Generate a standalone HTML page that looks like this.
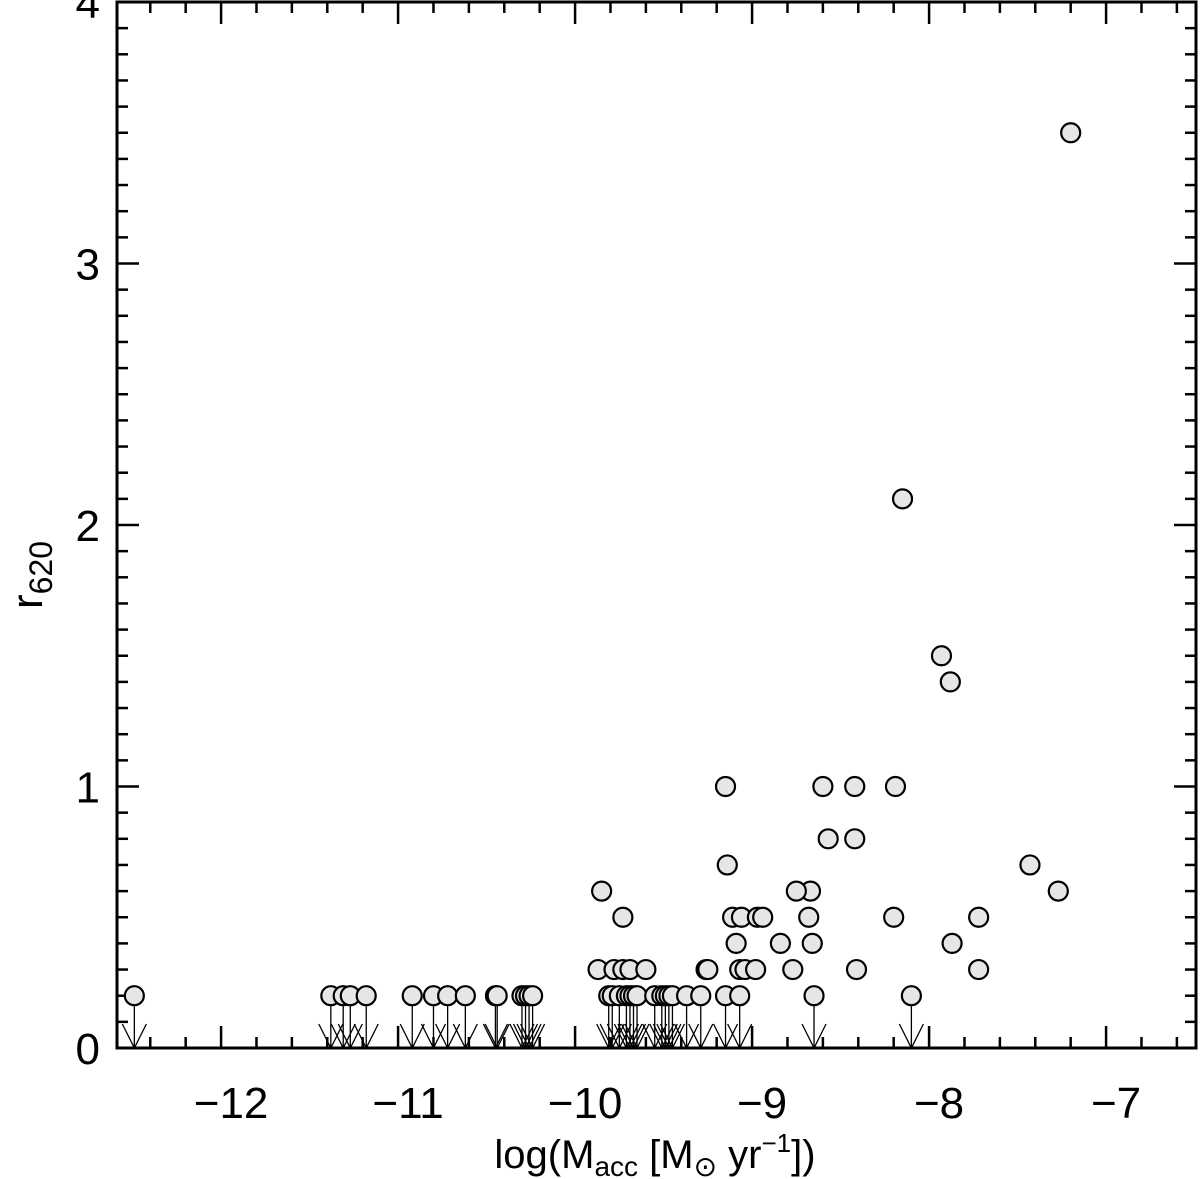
<!DOCTYPE html>
<html><head><meta charset="utf-8"><style>
body{margin:0;background:#fff;}
svg{display:block;font-family:"Liberation Sans",sans-serif;}
</style></head><body>
<svg id="chart" width="1200" height="1179" viewBox="0 0 1200 1179">
<g id="ticks" stroke="#000" stroke-width="2.5"></g>
<g id="marks"></g>
<rect x="117" y="2" width="1079" height="1046" fill="none" stroke="#000" stroke-width="3"/>
<g id="labels" font-size="44" fill="#000"></g>
<text x="655" y="1168" font-size="40" text-anchor="middle">log(M<tspan font-size="28" dy="8">acc</tspan><tspan dy="-8"> [M</tspan><tspan font-size="28" dy="8">⊙</tspan><tspan dy="-8"> yr</tspan><tspan font-size="26" dy="-16">−1</tspan><tspan dy="16">])</tspan></text>
<text transform="translate(42,575) rotate(-90)" font-size="44" text-anchor="middle">r<tspan font-size="32" dy="10">620</tspan></text>
</svg>
<script>
const detX = [-7.2,-8.15,-7.93,-7.88,-9.15,-8.6,-8.42,-8.19,-9.14,-7.43,-8.57,-8.42,-9.85,-8.67,-8.75,-7.27,-9.73,-9.11,-9.06,-8.97,-8.94,-8.68,-8.2,-7.72,-9.09,-8.84,-8.66,-7.87,-9.87,-9.78,-9.73,-9.69,-9.6,-9.26,-9.25,-9.07,-9.04,-8.98,-8.77,-8.41,-7.72];
const detY = [3.5,2.1,1.5,1.4,1.0,1.0,1.0,1.0,0.7,0.7,0.8,0.8,0.6,0.6,0.6,0.6,0.5,0.5,0.5,0.5,0.5,0.5,0.5,0.5,0.4,0.4,0.4,0.4,0.3,0.3,0.3,0.3,0.3,0.3,0.3,0.3,0.3,0.3,0.3,0.3,0.3];
const limX = [-12.49,-11.38,-11.31,-11.27,-11.18,-10.92,-10.8,-10.72,-10.62,-10.45,-10.44,-10.3,-10.28,-10.26,-10.24,-9.81,-9.79,-9.75,-9.71,-9.69,-9.67,-9.65,-9.55,-9.51,-9.49,-9.47,-9.45,-9.37,-9.29,-9.15,-9.07,-8.65,-8.1];
const limY = [0.2,0.2,0.2,0.2,0.2,0.2,0.2,0.2,0.2,0.2,0.2,0.2,0.2,0.2,0.2,0.2,0.2,0.2,0.2,0.2,0.2,0.2,0.2,0.2,0.2,0.2,0.2,0.2,0.2,0.2,0.2,0.2,0.2];
const xTickVals = [-12,-11,-10,-9,-8,-7];
const xTickLabels = ["−12","−11","−10","−9","−8","−7"];
const yTickVals = [0,1,2,3,4];
const yTickLabels = ["0","1","2","3","4"];

const NS="http://www.w3.org/2000/svg";
const L=117,R=1196,T=2,B=1048;
const xMin=-12.588,xMax=-6.492,yMin=0,yMax=4;
function sx(v){return L+(v-xMin)/(xMax-xMin)*(R-L);}
function sy(v){return B-(v-yMin)/(yMax-yMin)*(B-T);}
function mk(tag,attrs,parent){const e=document.createElementNS(NS,tag);for(const k in attrs)e.setAttribute(k,attrs[k]);parent.appendChild(e);return e;}
const ticks=document.getElementById('ticks'),marks=document.getElementById('marks'),labels=document.getElementById('labels');
for(let i=0;i<=35;i++){
  const v=-12.6+i*0.2; if(v<xMin||v>xMax) continue;
  const major=Math.abs(v-Math.round(v))<1e-6, len=major?22:11, x=sx(v);
  const t1=mk('line',{x1:x,x2:x,y1:B,y2:B-len},ticks);
  
  
  const t2=mk('line',{x1:x,x2:x,y1:T,y2:T+len},ticks);
  
  
}
for(let i=0;i<=40;i++){
  const v=i*0.1, major=i%10===0, len=major?22:11, y=sy(v);
  const t1=mk('line',{x1:L,x2:L+len,y1:y,y2:y},ticks);
  
  
  const t2=mk('line',{x1:R,x2:R-len,y1:y,y2:y},ticks);
  
  
}
xTickVals.forEach((v,i)=>{
  const t=mk('text',{x:sx(v)+10,y:1118,'text-anchor':'middle'},labels);
  t.textContent=xTickLabels[i];
  
  
});
yTickVals.forEach((v,i)=>{
  const t=mk('text',{x:100,y:sy(v)+16,'text-anchor':'end'},labels);
  t.textContent=yTickLabels[i];
  
  
});
limX.forEach((v,i)=>{
  const x=sx(v),y=sy(limY[i]),y0=sy(0);
  const a=mk('path',{d:`M${x},${y}L${x},${y0}M${x-12},${y0-24}L${x},${y0}L${x+12},${y0-24}`,fill:'none',stroke:'#000','stroke-width':1.3},marks);
  
  
});
function circ(x,y){
  const c=mk('circle',{cx:x,cy:y,r:9.5,fill:'#e6e6e6',stroke:'#000','stroke-width':2.2},marks);
  return c;
}
limX.forEach((v,i)=>{
  const c=circ(sx(v),sy(limY[i]));
  
  
});
detX.forEach((v,i)=>{
  const c=circ(sx(v),sy(detY[i]));
  
  
});
</script>
</body></html>
